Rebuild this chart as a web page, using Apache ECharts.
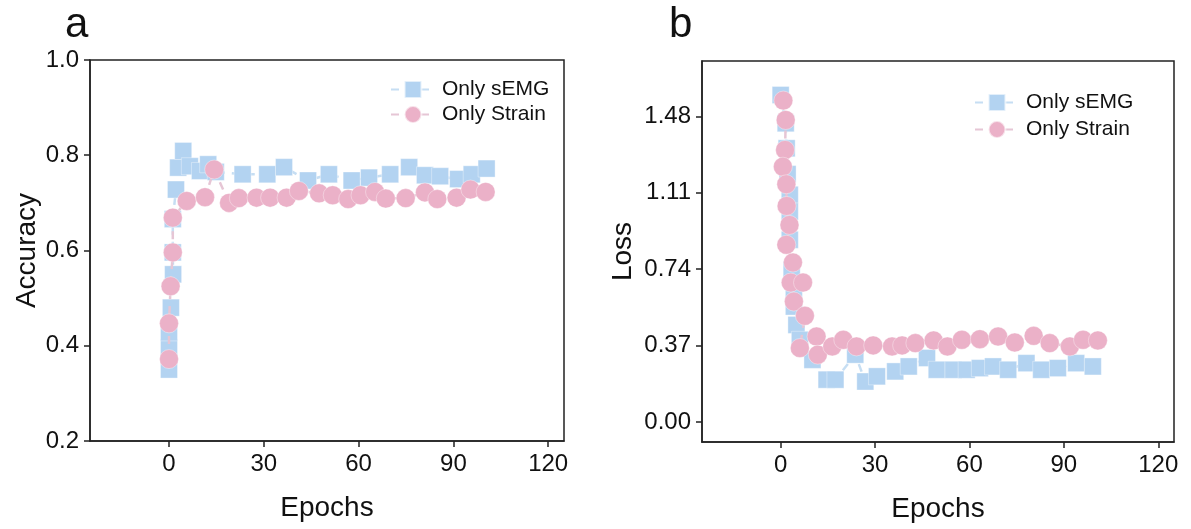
<!DOCTYPE html>
<html>
<head>
<meta charset="utf-8">
<script src="https://cdn.jsdelivr.net/npm/echarts@6/dist/echarts.min.js"></script>
<style>
html,body{margin:0;padding:0;background:#fff;}
#c{width:1191px;height:529px;}
</style>
</head>
<body>
<div id="c"></div>
<script>
// ---- Panel a: Accuracy ----
const accSEMGEpoch = [0, 0, 0, 0.6, 1.3, 1.2, 1.2, 2.2, 2.9, 4.5, 6.6, 9.8, 12.4, 14.8, 23.3, 31.1, 36.4, 44, 50.6, 57.8, 63.3, 70, 76, 81, 85.8, 91.5, 95.8, 100.5];
const accSEMG      = [0.35, 0.396, 0.428, 0.48, 0.55, 0.596, 0.666, 0.728, 0.774, 0.809, 0.777, 0.767, 0.781, 0.765, 0.76, 0.76, 0.775, 0.747, 0.76, 0.747, 0.753, 0.76, 0.775, 0.758, 0.756, 0.75, 0.76, 0.772];
const accStrainEpoch = [0, 0, 0.5, 1.2, 1.2, 5.6, 11.4, 14.3, 19, 22.1, 27.7, 32, 37.2, 41.1, 47.5, 51.8, 56.7, 60.6, 65.2, 68.6, 74.9, 81, 84.9, 91, 95.4, 100.2];
const accStrain      = [0.372, 0.447, 0.525, 0.596, 0.669, 0.704, 0.712, 0.77, 0.70, 0.71, 0.711, 0.711, 0.711, 0.725, 0.72, 0.716, 0.708, 0.716, 0.723, 0.709, 0.71, 0.722, 0.708, 0.711, 0.728, 0.723];

// ---- Panel b: Loss ----
const lossSEMGEpoch = [0, 1.6, 1.9, 2.2, 2.9, 2.9, 2.9, 3.5, 4.2, 4.2, 5, 6.1, 10.1, 14.6, 17.4, 23.7, 26.9, 30.6, 36.4, 40.7, 46.5, 49.6, 54.9, 59.1, 63.3, 67.5, 72.3, 78.1, 82.8, 88.1, 93.9, 99.2];
const lossSEMG      = [1.583, 1.446, 1.325, 1.2, 1.10, 1.019, 0.882, 0.737, 0.62, 0.559, 0.47, 0.398, 0.301, 0.205, 0.205, 0.326, 0.196, 0.221, 0.245, 0.269, 0.31, 0.253, 0.253, 0.253, 0.261, 0.269, 0.253, 0.285, 0.253, 0.261, 0.285, 0.269];
const lossStrainEpoch = [0.85, 1.6, 1.4, 0.7, 1.8, 1.9, 2.8, 1.8, 3.9, 3.2, 7.1, 4.2, 7.7, 6.1, 11.4, 11.8, 16.4, 19.9, 24.1, 29.4, 35.4, 38.6, 42.8, 48.6, 53, 57.6, 63.3, 69.1, 74.4, 80.4, 85.5, 91.9, 96.1, 100.8];
const lossStrain      = [1.556, 1.462, 1.317, 1.236, 1.151, 1.046, 0.954, 0.858, 0.772, 0.675, 0.675, 0.583, 0.514, 0.358, 0.414, 0.326, 0.366, 0.398, 0.366, 0.371, 0.366, 0.371, 0.382, 0.395, 0.366, 0.398, 0.401, 0.414, 0.385, 0.417, 0.382, 0.366, 0.398, 0.395];

// ---- Ticks ----
const xTicks = [0, 30, 60, 90, 120];
const accTicks = [0.2, 0.4, 0.6, 0.8, 1.0];
const lossTicks = [0, 0.37, 0.74, 1.11, 1.48];

const seriesNames = ['Only sEMG', 'Only Strain'];

const BLUE = '#b3d3f1';
const BLUE_LINE = '#c6def3';
const PINK = '#ebb1c8';
const PINK_LINE = '#e6c6d5';
const FONT = '"Liberation Sans", Arial, sans-serif';
const INK = '#111';

function zip(xs, ys){ return xs.map((x,i)=>[x, ys[i]]); }

function xAxis(gridIndex){
  return {
    type:'value', gridIndex, min:-25, max:125,
    axisLine:{show:true, onZero:false, lineStyle:{color:'#222', width:1.5}},
    axisTick:{show:true, inside:false, length:6, lineStyle:{color:'#222', width:1.5}, customValues:xTicks},
    axisLabel:{customValues:xTicks, fontSize:24, color:INK, fontFamily:FONT, margin:11},
    splitLine:{show:false},
    name:'Epochs', nameLocation:'middle', nameGap:53,
    nameTextStyle:{fontSize:28, color:INK, fontFamily:FONT}
  };
}

const gridA = {left:90, top:60, width:474, height:381};
const gridB = {left:702, top:61, width:472, height:381};

function lineSeries(name, xi, yi, data, symbol, size, color, lineColor){
  return {
    name, type:'line', xAxisIndex:xi, yAxisIndex:yi, data,
    symbol, symbolSize:size, showSymbol:true,
    itemStyle:{color, borderColor:'rgba(255,255,255,0.6)', borderWidth:0.6, opacity:1},
    lineStyle:{color:lineColor, width:2.5, type:[8,7]},
    animation:false, z:symbol==='circle'?3:2
  };
}

const option = {
  animation:false,
  backgroundColor:'#fff',
  textStyle:{fontFamily:FONT},
  title:[
    {text:'a', left:60, top:-1, textStyle:{fontSize:42, fontWeight:'normal', color:INK, fontFamily:FONT}},
    {text:'b', left:664, top:-1, textStyle:{fontSize:42, fontWeight:'normal', color:INK, fontFamily:FONT}}
  ],
  grid:[
    Object.assign({show:true, borderColor:'#222', borderWidth:1.5, backgroundColor:'transparent'}, gridA),
    Object.assign({show:true, borderColor:'#222', borderWidth:1.5, backgroundColor:'transparent'}, gridB)
  ],
  legend:[
    {data:seriesNames, orient:'vertical', left:385, top:74, itemWidth:44, itemHeight:21, itemGap:4,
     textStyle:{fontSize:21, color:INK, fontFamily:FONT, padding:[0,0,0,2]}},
    {data:seriesNames, orient:'vertical', left:969, top:87, itemWidth:44, itemHeight:21, itemGap:6,
     textStyle:{fontSize:21, color:INK, fontFamily:FONT, padding:[0,0,0,2]}}
  ],
  xAxis:[xAxis(0), xAxis(1)],
  yAxis:[
    {type:'value', gridIndex:0, min:0.2, max:1.0, interval:0.2,
     axisLine:{show:true, onZero:false, lineStyle:{color:'#222', width:1.5}},
     axisTick:{show:true, length:6, lineStyle:{color:'#222', width:1.5}},
     axisLabel:{fontSize:24, color:INK, fontFamily:FONT, margin:11, formatter:v=>v.toFixed(1)},
     splitLine:{show:false},
     name:'Accuracy', nameLocation:'middle', nameGap:49, nameRotate:90,
     nameTextStyle:{fontSize:28, color:INK, fontFamily:FONT}},
    {type:'value', gridIndex:1, min:-0.0967, max:1.7475,
     axisLine:{show:true, onZero:false, lineStyle:{color:'#222', width:1.5}},
     axisTick:{show:true, length:6, lineStyle:{color:'#222', width:1.5}, customValues:lossTicks},
     axisLabel:{customValues:lossTicks, fontSize:24, color:INK, fontFamily:FONT, margin:11, formatter:v=>v.toFixed(2)},
     splitLine:{show:false},
     name:'Loss', nameLocation:'middle', nameGap:65, nameRotate:90,
     nameTextStyle:{fontSize:28, color:INK, fontFamily:FONT}}
  ],
  series:[
    lineSeries(seriesNames[0], 0, 0, zip(accSEMGEpoch, accSEMG), 'rect', 17, BLUE, BLUE_LINE),
    lineSeries(seriesNames[1], 0, 0, zip(accStrainEpoch, accStrain), 'circle', 19, PINK, PINK_LINE),
    lineSeries(seriesNames[0], 1, 1, zip(lossSEMGEpoch, lossSEMG), 'rect', 17, BLUE, BLUE_LINE),
    lineSeries(seriesNames[1], 1, 1, zip(lossStrainEpoch, lossStrain), 'circle', 19, PINK, PINK_LINE)
  ]
};

const chart = echarts.init(document.getElementById('c'), null, {renderer:'canvas'});
chart.setOption(option);
</script>
</body>
</html>
